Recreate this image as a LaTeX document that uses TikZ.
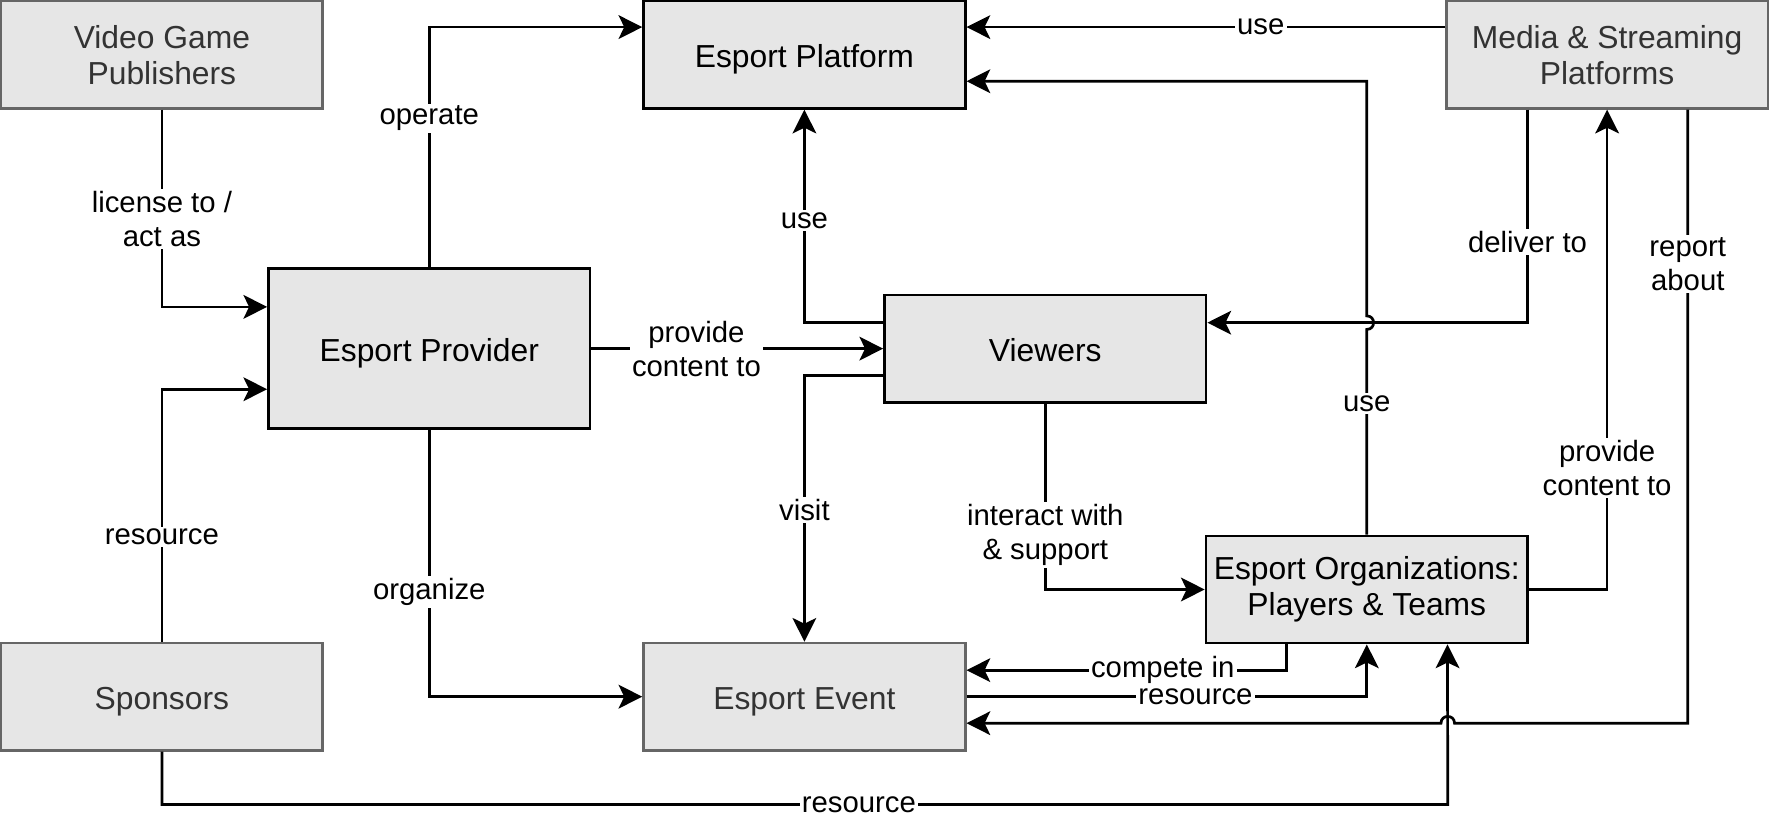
\documentclass[tikz,border=0pt]{standalone}
\usepackage{fontspec}
\setmainfont{Liberation Sans}
\usetikzlibrary{arrows.meta}
\definecolor{boxfill}{HTML}{E6E6E6}
\definecolor{greyline}{HTML}{666666}
\definecolor{greytext}{HTML}{333333}
\begin{document}
\begin{tikzpicture}[x=0.5pt,y=-0.5pt,
  boxbase/.style={rectangle, fill=boxfill, line width=1.2pt, align=center,
     minimum width=142.5pt, minimum height=47.5pt, inner sep=0pt,
     font=\fontsize{14.1}{16}\selectfont},
  darkbox/.style={boxbase, draw=black, text=black},
  greybox/.style={boxbase, draw=greyline, text=greytext},
  oneline/.style={text height=12.3pt, text depth=1pt},
  conn/.style={line width=1.2pt, draw=black},
  arr/.style={conn, -{Stealth[length=10.5pt,width=10.5pt,inset=2.5pt]}},
  lbl/.style={fill=white, inner sep=1pt, align=center, text=black,
     font=\fontsize{13}{15}\selectfont}
]
\useasboundingbox (0,0) rectangle (1568,725);

% boxes
\node[greybox] (vgp) at (143.5,48.5) {Video Game\\Publishers};
\node[darkbox, oneline] (plat) at (713,48.5) {Esport Platform};
\node[greybox] (media) at (1424.5,48.5) {Media \& Streaming\\Platforms};
\node[darkbox, oneline, minimum height=71pt] (prov) at (380.5,309) {Esport Provider};
\node[darkbox, oneline] (view) at (926.5,309) {Viewers};
\node[darkbox] (org) at (1211.5,522.5) {Esport Organizations:\\Players \& Teams};
\node[greybox, oneline] (spons) at (143.5,617.5) {Sponsors};
\node[greybox, oneline] (event) at (713,617.5) {Esport Event};

% helper coordinates
\coordinate (j1a) at (1211.5,292);
\coordinate (j1b) at (1211.5,280);
\coordinate (j2a) at (1289.25,641);
\coordinate (j2b) at (1277.25,641);
\coordinate (c14) at (1283.25,713);

% connectors
\draw[arr] (vgp.south) |- node[lbl,pos=0.278]{license to /\\act as} ([yshift=18.5pt]prov.west);
\draw[arr] (spons.north) |- node[lbl,pos=0.207]{resource} ([yshift=-18pt]prov.west);
\draw[arr] (prov.north) |- node[lbl,pos=0.31]{operate} ([yshift=12.25pt]plat.west);
\draw[arr] (prov.south) |- node[lbl,pos=0.304]{organize} (event.west);
\draw[arr] (prov.east) -- node[lbl,pos=0.36]{provide\\content to} (view.west);
\draw[arr] ([yshift=11.5pt]view.west) -| node[lbl,pos=0.74]{use} (plat.south);
\draw[arr] ([yshift=-12pt]view.west) -| node[lbl,pos=0.753]{visit} (event.north);
\draw[arr] (view.south) |- node[lbl,pos=0.354]{interact with\\\& support} (org.west);
\draw[arr] ([yshift=12.25pt]media.west) -- node[lbl,pos=0.385]{use} ([yshift=12.25pt]plat.east);
\draw[arr] (org.north) -- node[lbl,pos=0.64]{use} (j1a)
   .. controls +(8,0) and +(8,0) .. (j1b) |- ([yshift=-11.75pt]plat.east);
\draw[arr] ([xshift=-35.25pt]media.south) |- node[lbl,pos=0.31]{deliver to} ([yshift=11.5pt]view.east);
\draw[arr] (org.east) -| node[lbl,pos=0.627]{provide\\content to} (media.south);
\draw[arr] ([xshift=35.75pt]media.south) |- node[lbl,pos=0.126]{report\\about} (j2a)
   .. controls +(0,-8) and +(0,-8) .. (j2b) -- ([yshift=-11.75pt]event.east);
\draw[arr] (spons.south) |- node[lbl,pos=0.771]{resource} (c14) -- ([xshift=35.75pt]org.south);
\draw[arr] ([xshift=-35.75pt]org.south) |- node[lbl,pos=0.693]{compete in} ([yshift=11.75pt]event.east);
\draw[arr] (event.east) -| node[lbl,pos=0.286]{resource} (org.south);
\end{tikzpicture}
\end{document}
